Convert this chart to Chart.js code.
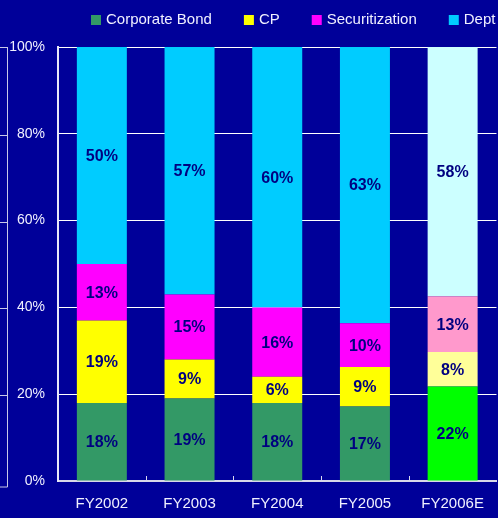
<!DOCTYPE html>
<html>
<head>
  <meta charset="UTF-8">
  <title>Funding Mix</title>
  <script src="https://cdn.jsdelivr.net/npm/chart.js"></script>
  <style>
    html, body { margin: 0; padding: 0; background: #000099; }
    #wrap { width: 498px; height: 518px; }
  </style>
</head>
<body>

<div id="wrap"><canvas id="mixChart"></canvas></div>

<script>
  const years = ['FY2002', 'FY2003', 'FY2004', 'FY2005', 'FY2006E'];
  const corporateBond = [18, 19, 18, 17, 22];
  const cp = [19, 9, 6, 9, 8];
  const securitization = [13, 15, 16, 10, 13];
  const dept = [50, 57, 60, 63, 58];
  const yTicks = [0, 20, 40, 60, 80, 100];

  const seriesNames = ['Corporate Bond', 'CP', 'Securitization', 'Dept'];
  const seriesValues = [corporateBond, cp, securitization, dept];
  // actual years, then the lighter forecast shade
  const seriesColors = [
    ['#339966', '#00ff00'],
    ['#ffff00', '#ffff99'],
    ['#ff00ff', '#ff99cc'],
    ['#00ccff', '#ccffff']
  ];

  const totals = years.map((_, i) => seriesValues.reduce((s, arr) => s + arr[i], 0));

  const datasets = seriesNames.map((name, k) => ({
    label: name,
    raw: seriesValues[k],
    data: seriesValues[k].map((v, i) => v / totals[i] * 100),
    backgroundColor: years.map(y => y.endsWith('E') ? seriesColors[k][1] : seriesColors[k][0]),
    legendColor: seriesColors[k][0],
    borderWidth: 0,
    barPercentage: 0.57,
    categoryPercentage: 1
  }));

  const FONT = '"Liberation Sans", Arial, sans-serif';

  // percent labels inside each segment
  const segmentLabels = {
    id: 'segmentLabels',
    afterDatasetsDraw(chart) {
      const ctx = chart.ctx;
      ctx.save();
      ctx.font = 'bold 16px ' + FONT;
      ctx.fillStyle = '#000080';
      ctx.textAlign = 'center';
      ctx.textBaseline = 'middle';
      chart.data.datasets.forEach((ds, k) => {
        chart.getDatasetMeta(k).data.forEach((bar, i) => {
          ctx.fillText(ds.raw[i] + '%', bar.x, (bar.y + bar.base) / 2 + 1);
        });
      });
      ctx.restore();
    }
  };

  // short upward ticks between categories, plus the frame edge on the left
  const axisExtras = {
    id: 'axisExtras',
    afterDatasetsDraw(chart) {
      const ctx = chart.ctx;
      const x = chart.scales.x;
      const y = chart.scales.y;
      const area = chart.chartArea;
      ctx.save();
      ctx.strokeStyle = '#d8d8f0';
      ctx.lineWidth = 1;
      ctx.beginPath();
      for (let i = 1; i < years.length; i++) {
        const bx = Math.round((x.getPixelForValue(i - 1) + x.getPixelForValue(i)) / 2) + 0.5;
        ctx.moveTo(bx, area.bottom);
        ctx.lineTo(bx, area.bottom - 5);
      }
      ctx.stroke();

      ctx.strokeStyle = '#c8c8e8';
      ctx.beginPath();
      ctx.moveTo(7.5, area.top);
      ctx.lineTo(7.5, area.bottom + 6);
      ctx.lineTo(0, area.bottom + 6);
      ctx.moveTo(0, area.top + 0.5);
      ctx.lineTo(7.5, area.top + 0.5);
      yTicks.slice(1, -1).forEach(t => {
        const py = Math.round(y.getPixelForValue(t)) + 1.5;
        ctx.moveTo(0, py);
        ctx.lineTo(7.5, py);
      });
      ctx.stroke();
      ctx.restore();
    }
  };

  // legend row above the plot
  const topLegend = {
    id: 'topLegend',
    afterDraw(chart) {
      const ctx = chart.ctx;
      ctx.save();
      ctx.font = '15px ' + FONT;
      ctx.textBaseline = 'middle';
      let cx = chart.chartArea.left + 33;
      const cy = 20;
      chart.data.datasets.forEach(ds => {
        ctx.fillStyle = ds.legendColor;
        ctx.fillRect(cx, cy - 5, 10, 10);
        ctx.fillStyle = '#f0f0ff';
        ctx.fillText(ds.label, cx + 15, cy);
        cx += 15 + ctx.measureText(ds.label).width + 32;
      });
      ctx.restore();
    }
  };

  new Chart(document.getElementById('mixChart'), {
    type: 'bar',
    data: { labels: years, datasets: datasets },
    options: {
      responsive: true,
      maintainAspectRatio: false,
      animation: false,
      devicePixelRatio: 1,
      layout: { padding: { top: 47, left: 0, right: 1, bottom: 0 } },
      plugins: {
        legend: { display: false },
        tooltip: { enabled: false }
      },
      scales: {
        x: {
          stacked: true,
          afterFit(scale) { scale.height = 37; },
          grid: { display: true, drawOnChartArea: false, drawTicks: false },
          border: { display: true, color: '#d8d8e8', width: 2 },
          ticks: { color: '#f0f0ff', padding: 14, font: { family: FONT, size: 15 } }
        },
        y: {
          stacked: true,
          min: 0,
          max: 100,
          afterFit(scale) { scale.width = 58; },
          afterBuildTicks(scale) { scale.ticks = yTicks.map(v => ({ value: v })); },
          grid: { color: '#ffffff', lineWidth: 1, drawTicks: false },
          border: { display: true, color: '#e8e8f8', width: 2 },
          ticks: {
            color: '#f0f0ff',
            padding: 13,
            font: { family: FONT, size: 14 },
            callback: v => v + '%'
          }
        }
      }
    },
    plugins: [segmentLabels, axisExtras, topLegend]
  });
</script>

</body>
</html>
